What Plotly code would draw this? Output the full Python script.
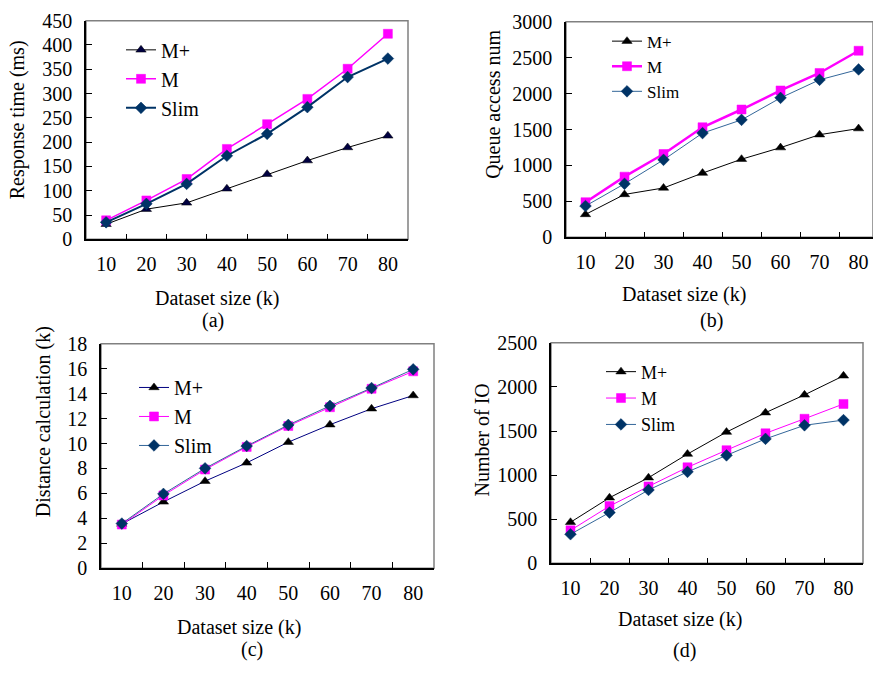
import plotly.graph_objects as go

W, H = 873, 674

sizes = ["10", "20", "30", "40", "50", "60", "70", "80"]

a_mplus = [31, 62, 75, 104, 134, 162, 189, 213]
a_m = [39, 80, 124, 186, 237, 289, 351, 423]
a_slim = [35, 73, 114, 172, 217, 272, 334, 372]

b_mplus = [319, 597, 687, 894, 1087, 1248, 1428, 1513]
b_m = [489, 844, 1159, 1531, 1778, 2043, 2286, 2595]
b_slim = [436, 745, 1078, 1450, 1634, 1940, 2191, 2335]

c_mplus = [3.55, 5.32, 6.98, 8.45, 10.11, 11.51, 12.79, 13.85]
c_m = [3.5, 5.84, 7.91, 9.73, 11.41, 12.91, 14.39, 15.79]
c_slim = [3.58, 5.96, 8.01, 9.8, 11.49, 13.02, 14.45, 15.95]

d_mplus = [466, 744, 971, 1239, 1488, 1708, 1910, 2126]
d_m = [374, 649, 872, 1089, 1283, 1474, 1639, 1807]
d_slim = [330, 576, 832, 1037, 1224, 1411, 1565, 1624]

FONT = "Liberation Serif, Times New Roman, serif"
MAG = "#FF00FF"
NAVY = "#003366"
STEEL = "#336699"


def px_x(v):
    return v / W


def px_y(v):
    return 1 - v / H


# panel geometry in pixels: (left, right, top, bottom)
panels = {
    "a": dict(box=(86, 408, 10, 236), yr=[0, 450], dt=50, xr=[-0.5, 7.5]),
    "b": dict(box=(566, 873, 11, 234), yr=[0, 3000], dt=500, xr=[-0.5, 7.37]),
    "c": dict(box=(101, 434, 344, 576), yr=[0, 18], dt=2, xr=[-0.5, 7.5]),
    "d": dict(box=(551, 863, 343, 571), yr=[0, 2500], dt=500, xr=[-0.5, 7.5]),
}

fig = go.Figure()
axis_ids = {"a": "", "b": "2", "c": "3", "d": "4"}
legend_ids = {"a": "legend", "b": "legend2", "c": "legend3", "d": "legend4"}

series = {
    "a": [
        ("M+", a_mplus, "#000000", 1, "triangle-up", "#000040", 9),
        ("M", a_m, MAG, 1.5, "square", MAG, 9),
        ("Slim", a_slim, NAVY, 2, "diamond", NAVY, 9),
    ],
    "b": [
        ("M+", b_mplus, "#000000", 1, "triangle-up", "#000000", 9),
        ("M", b_m, MAG, 2.5, "square", MAG, 9),
        ("Slim", b_slim, STEEL, 1, "diamond", NAVY, 9),
    ],
    "c": [
        ("M+", c_mplus, "#000080", 1, "triangle-up", "#000000", 9),
        ("M", c_m, MAG, 1, "square", MAG, 9),
        ("Slim", c_slim, STEEL, 1, "diamond", NAVY, 9),
    ],
    "d": [
        ("M+", d_mplus, "#000000", 1, "triangle-up", "#000000", 9),
        ("M", d_m, MAG, 1, "square", MAG, 9),
        ("Slim", d_slim, STEEL, 1, "diamond", NAVY, 9),
    ],
}

for key, lst in series.items():
    aid = axis_ids[key]
    for name, vals, lc, lw, sym, mc, ms in lst:
        fig.add_trace(go.Scatter(
            x=sizes, y=vals, name=name, mode="lines+markers",
            line=dict(color=lc, width=lw),
            marker=dict(symbol=sym, color=mc, size=ms,
                        line=dict(color="#000000" if sym == "triangle-up" else mc, width=0.5)),
            xaxis="x" + aid, yaxis="y" + aid,
            legend=legend_ids[key], legendgroup=key + name,
        ))

layout = dict(
    width=W, height=H, margin=dict(l=0, r=0, t=0, b=0),
    paper_bgcolor="white", plot_bgcolor="white",
    font=dict(family=FONT, size=20, color="black"),
    showlegend=True,
)

shapes = []
for key, p in panels.items():
    l, r, t, b = p["box"]
    aid = axis_ids[key]
    layout["xaxis" + aid] = dict(
        domain=[px_x(l), px_x(r)], anchor="y" + aid, type="category",
        range=p["xr"], tickson="boundaries", ticks="inside", ticklen=6,
        tickcolor="black", showline=True, linecolor="black", linewidth=1.5,
        showgrid=False, zeroline=False, fixedrange=True,
        tickfont=dict(family=FONT, size=20), ticklabelstandoff=6,
    )
    layout["yaxis" + aid] = dict(
        domain=[px_y(b), px_y(t)], anchor="x" + aid, range=p["yr"], dtick=p["dt"],
        ticks="inside", ticklen=6, tickcolor="black", showline=True,
        linecolor="black", linewidth=1.5, showgrid=False, zeroline=False,
        tickfont=dict(family=FONT, size=20), ticklabelstandoff=8,
    )
    shapes.append(dict(type="rect", xref="x" + aid + " domain", yref="y" + aid + " domain",
                       x0=0, x1=1, y0=0, y1=1, line=dict(color="#808080", width=1.5),
                       layer="below"))

layout["shapes"] = shapes

legend_pos = {
    "legend": (121, 20, 20, 0),
    "legend2": (607, 13, 17, 0),
    "legend3": (134, 369, 20, 0),
    "legend4": (601, 354, 18, 0),
}
for lid, (x, y, fs, gap) in legend_pos.items():
    layout[lid] = dict(x=px_x(x), y=px_y(y), xanchor="left", yanchor="top",
                       bgcolor="rgba(255,255,255,0)", borderwidth=0,
                       font=dict(family=FONT, size=fs), tracegroupgap=gap)

annotations = []
texts = [
    ("Dataset size (k)", 217, 297, 0),
    ("(a)", 213, 320, 0),
    ("Response time (ms)", 17, 113, -90),
    ("Dataset size (k)", 684, 293, 0),
    ("(b)", 711, 320, 0),
    ("Queue access num", 493, 97, -90),
    ("Dataset size (k)", 239, 637, 0),
    ("(c)", 252, 660, 0),
    ("Distance calculation (k)", 43, 425, -90),
    ("Dataset size (k)", 680, 629, 0),
    ("(d)", 684, 661, 0),
    ("Number of IO", 482, 444, -90),
]
for txt, x, y, ang in texts:
    annotations.append(dict(text=txt, x=px_x(x), y=px_y(y), xref="paper", yref="paper",
                            xanchor="center", yanchor="middle", showarrow=False,
                            textangle=ang, font=dict(family=FONT, size=20)))
layout["annotations"] = annotations

fig.update_layout(**layout)
fig.write_html("out.html", config={"displayModeBar": False},
               post_script="document.body.style.margin='0';document.body.style.overflow='hidden';")
